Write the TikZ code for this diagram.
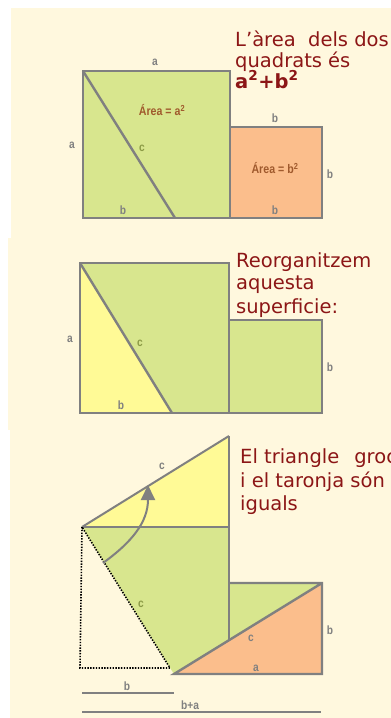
\documentclass[tikz,border=0pt]{standalone}
\usepackage{fontspec}
\setmainfont{DejaVu Sans}
\newfontfamily\lblfont[FakeStretch=0.85]{Liberation Sans}
\usetikzlibrary{arrows.meta}
\definecolor{cream}{RGB}{255,248,222}
\definecolor{sqgreen}{RGB}{216,230,142}
\definecolor{trigold}{RGB}{255,250,150}
\definecolor{sqorange}{RGB}{251,190,140}
\definecolor{edgegray}{RGB}{128,128,128}
\definecolor{darkred}{RGB}{140,22,22}
\definecolor{areabrown}{RGB}{160,90,45}
\definecolor{olive}{RGB}{140,155,70}

\begin{document}
\begin{tikzpicture}[x=1pt,y=-1pt,
  panel/.style={fill=cream,draw=none},
  edgeline/.style={draw=edgegray,line width=2.4pt,line join=miter},
  lbl/.style={font=\lblfont\bfseries\fontsize{12}{12}\selectfont,text=edgegray,inner sep=0pt},
  clbl/.style={lbl,text=olive},
  alab/.style={font=\lblfont\bfseries\fontsize{12.5}{12.5}\selectfont,text=areabrown,inner sep=0pt},
  say/.style={font=\fontsize{19.5}{19.5}\selectfont,text=darkred,anchor=base west,inner sep=0pt},
  dotline/.style={draw=black,line width=1.6pt,dash pattern=on 1.4pt off 1.4pt},
  swing/.style={draw=edgegray,line width=2pt,-{Triangle[length=15pt,width=14pt]}}]
  \useasboundingbox (0,0) rectangle (391,718);
  \clip (0,0) rectangle (391,718);
  % panels
  \fill[panel] (11,8) rectangle (391,238);
  \fill[panel] (8,238) rectangle (391,430);
  \fill[panel] (10,430) rectangle (391,718);

  % panel 1: the two squares
  \coordinate (A1) at (83,71);  \coordinate (C1) at (230,218);
  \coordinate (E1) at (175,218);
  \coordinate (F1) at (230,127); \coordinate (H1) at (322,218);
  \fill[sqgreen] (A1) rectangle (C1);
  \fill[sqorange] (F1) rectangle (H1);
  \draw[edgeline] (A1) rectangle (C1);
  \draw[edgeline] (F1) rectangle (H1);
  \draw[edgeline] (A1) -- (E1);

  % panel 2: cut triangle
  \coordinate (A2) at (80,263);  \coordinate (C2) at (229,413);
  \coordinate (D2) at (80,413);  \coordinate (E2) at (172,413);
  \coordinate (F2) at (229,320); \coordinate (H2) at (322,413);
  \fill[sqgreen] (A2) rectangle (C2);
  \fill[sqgreen] (F2) rectangle (H2);
  \fill[trigold] (A2) -- (E2) -- (D2) -- cycle;
  \draw[edgeline] (A2) rectangle (C2);
  \draw[edgeline] (F2) rectangle (H2);
  \draw[edgeline] (A2) -- (E2);

  % panel 3: moved triangles
  \coordinate (P) at (82,527);  \coordinate (Q) at (229,527);
  \coordinate (T) at (229,436); \coordinate (R) at (229,583);
  \coordinate (S) at (322,583); \coordinate (U) at (322,674);
  \coordinate (V) at (174,674); \coordinate (W) at (229,640);
  \fill[trigold] (P) -- (T) -- (Q) -- cycle;
  \fill[sqgreen] (P) -- (Q) -- (R) -- (S) -- (V) -- cycle;
  \fill[sqorange] (V) -- (S) -- (U) -- cycle;
  \draw[edgeline,line width=2pt] (P) -- (T);
  \draw[edgeline] (P) -- (Q);
  \draw[edgeline] (T) -- (W);
  \draw[edgeline] (R) -- (S) -- (U) -- (V) -- (S);
  \draw[dotline] (P) -- (80,668) -- (170,668) -- cycle;
  \coordinate (arrA) at (103,563); \coordinate (arrB) at (148,485);
  \draw[swing] (arrA) .. controls (132,542) and (148,522) .. (arrB);
  \coordinate (m1) at (82,693);  \coordinate (m2) at (174,693);
  \coordinate (m3) at (82,712);  \coordinate (m4) at (321,712);
  \draw[edgeline,line width=2pt] (m1) -- (m2);
  \draw[edgeline,line width=2pt] (m3) -- (m4);

  % side labels
  \foreach \x/\y/\n/\t in {155/62/la1/a,72/145/lb1/a,123/210/ld1/b,275/118/le1/b,
      330/174/lf1/b,275/210/lg1/b,70/339/la2/a,121/405/lb2/b,330/367/ld2/b,
      162/466/lc3/c,251/638/lc5/c,256/668/la3/a,330/630/lb3/b,127/686/lb4/b,190/705/lba/b+a}
    \node[lbl] (\n) at (\x,\y) {\t};
  \foreach \x/\y/\n in {142/148/lc1,140/343/lc2,141/604/lc4}
    \node[clbl] (\n) at (\x,\y) {c};
  \node[alab] (ar1) at (162,110) {Área = a\textsuperscript{2}};
  \node[alab] (ar2) at (275,168) {Área = b\textsuperscript{2}};

  % captions
  \node[say] (t1a) at (235,46) {L’àrea\ \ dels dos};
  \node[say] (t1b) at (235,67) {quadrats és};
  \node[say] (t1c) at (235,88) {\textbf{a\textsuperscript{2}+b\textsuperscript{2}}};
  \node[say] (t2a) at (236,267) {Reorganitzem};
  \node[say] (t2b) at (236,289) {aquesta};
  \node[say] (t2c) at (236,313) {superficie:};
  \node[say] (t3a) at (240,463) {El triangle\hspace{15pt}groc};
  \node[say] (t3b) at (240,487) {i el taronja són};
  \node[say] (t3c) at (240,510) {iguals};
\end{tikzpicture}
\end{document}
